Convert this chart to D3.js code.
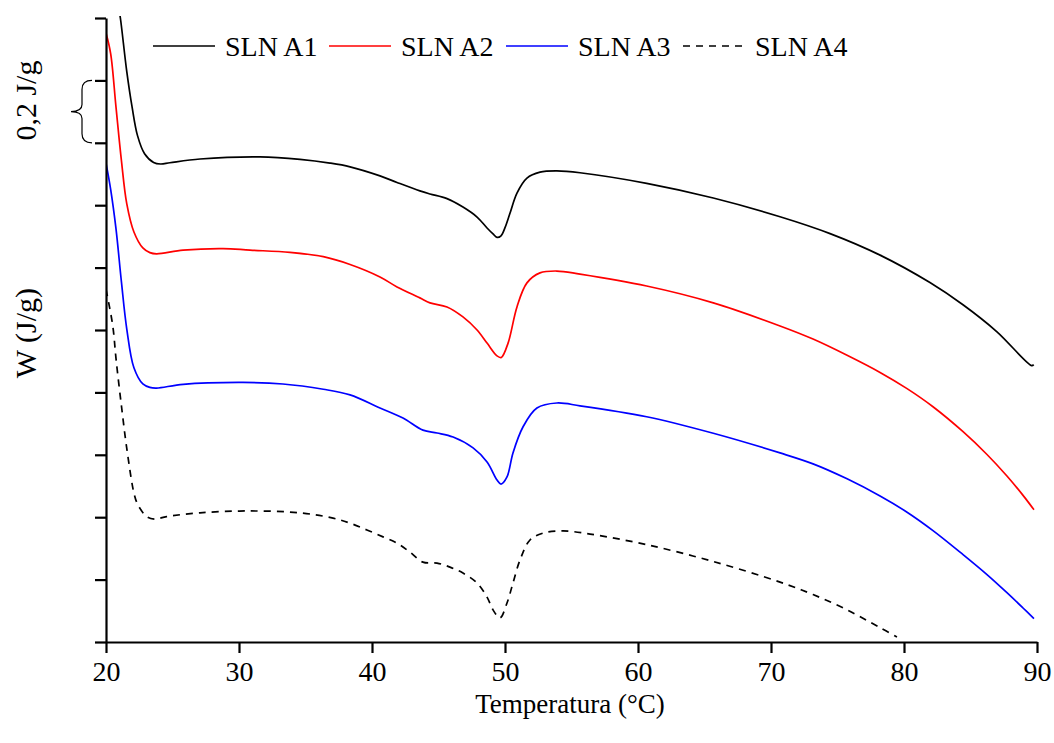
<!DOCTYPE html>
<html>
<head>
<meta charset="utf-8">
<script src="https://cdn.jsdelivr.net/npm/d3@7"></script>
<style>
  html, body { margin: 0; padding: 0; background: #fff; }
  svg { display: block; }
  svg text { font-family: "Liberation Serif", "Times New Roman", serif !important; fill: #000; }
</style>
</head>
<body>
<svg id="chart" width="1054" height="743"></svg>
<script>
// ---- data (temperature °C, W in J/g, arbitrary vertical offset) ----
const xTicks = [20, 30, 40, 50, 60, 70, 80, 90];
const yTicks = [0, 0.2, 0.4, 0.6, 0.8, 1.0, 1.2, 1.4, 1.6, 1.8, 2.0];
const seriesNames = ["SLN A1", "SLN A2", "SLN A3", "SLN A4"];

const slnA1 = [[20.95,2.032],[21.08,2.000],[21.56,1.829],[21.96,1.715],[22.37,1.623],[22.9,1.565],[23.58,1.537],[24.1,1.532],[24.8,1.536],[27.07,1.548],[31.58,1.555],[34.59,1.547],[36.84,1.535],[38.35,1.523],[40.6,1.494],[41.88,1.473],[43.6,1.446],[44.36,1.436],[45.64,1.421],[46.84,1.394],[47.9,1.362],[48.65,1.327],[49.1,1.308],[49.4,1.297],[49.7,1.302],[50.0,1.328],[50.38,1.375],[50.9,1.439],[51.65,1.487],[52.63,1.506],[53.9,1.510],[55.64,1.504],[60.65,1.470],[65.66,1.423],[70.68,1.363],[74.44,1.309],[78.2,1.240],[81.95,1.152],[84.46,1.080],[86.97,0.995],[89.6,0.886],[89.75,0.889]];

const slnA2 = [[20.0,1.952],[20.35,1.886],[20.75,1.715],[21.16,1.543],[21.56,1.405],[22.1,1.314],[22.77,1.263],[23.3,1.248],[23.8,1.244],[25.8,1.256],[28.8,1.261],[30.83,1.256],[33.83,1.249],[36.34,1.235],[38.35,1.210],[40.6,1.170],[41.88,1.138],[43.6,1.103],[44.36,1.087],[45.64,1.074],[46.84,1.042],[47.9,1.000],[48.65,0.958],[49.4,0.917],[49.72,0.912],[50.23,0.958],[50.9,1.074],[51.65,1.151],[52.63,1.183],[53.9,1.189],[55.64,1.179],[60.65,1.141],[65.66,1.087],[70.68,1.013],[73.16,0.971],[75.72,0.919],[78.2,0.864],[80.23,0.812],[82.18,0.754],[84.44,0.674],[86.24,0.601],[87.74,0.532],[88.95,0.470],[89.77,0.424]];

const slnA3 = [[20.0,1.535],[20.35,1.451],[20.75,1.325],[21.16,1.154],[21.56,1.004],[22.1,0.879],[22.77,0.827],[23.3,0.816],[23.8,0.814],[25.8,0.826],[30.3,0.832],[33.3,0.827],[36.34,0.810],[38.35,0.792],[40.6,0.750],[42.33,0.718],[43.83,0.679],[44.89,0.670],[46.1,0.657],[47.6,0.622],[48.65,0.577],[49.4,0.519],[49.7,0.506],[50.15,0.529],[50.6,0.606],[51.35,0.689],[52.4,0.750],[53.9,0.766],[55.64,0.757],[60.65,0.722],[65.66,0.669],[70.68,0.606],[73.16,0.571],[75.72,0.523],[78.2,0.468],[80.23,0.416],[82.18,0.357],[84.44,0.280],[86.24,0.216],[87.74,0.158],[88.95,0.109],[89.77,0.075]];

const slnA4 = [[20.0,1.130],[20.5,1.016],[20.77,0.901],[21.18,0.750],[21.59,0.612],[22.13,0.472],[22.4,0.440],[23.06,0.402],[23.68,0.394],[24.56,0.402],[27.07,0.414],[30.6,0.420],[34.59,0.414],[37.07,0.397],[38.35,0.381],[39.62,0.359],[40.83,0.337],[41.88,0.317],[42.86,0.288],[43.83,0.256],[44.89,0.253],[45.86,0.240],[46.84,0.221],[47.9,0.189],[48.65,0.144],[49.1,0.103],[49.62,0.077],[50.15,0.125],[50.6,0.189],[51.13,0.263],[51.88,0.327],[52.86,0.349],[54.36,0.356],[56.4,0.346],[60.65,0.312],[65.66,0.258],[70.68,0.192],[73.16,0.152],[75.72,0.103],[78.2,0.046],[79.47,0.016]];

const seriesData = [slnA1, slnA2, slnA3, slnA4];
const seriesColors = ["#000000", "#ff0000", "#0000ff", "#000000"];
const seriesDash = [null, null, null, "7,6"];
const scaleBarValue = [1.6, 1.8];   // brace marks 0,2 J/g

// ---- layout ----
const FONT = '"Liberation Serif", "Times New Roman", serif';
const svg = d3.select("#chart");
const pL = 106, pR = 1037, pT = 18, pB = 642;
const x = d3.scaleLinear().domain([20, 90]).range([pL, pR]);
const y = d3.scaleLinear().domain([0, 2]).range([pB, pT]);

svg.append("rect").attr("width", 1054).attr("height", 743).attr("fill", "#fff");

svg.append("defs").append("clipPath").attr("id", "plotclip")
  .append("rect").attr("x", pL).attr("y", pT - 2).attr("width", pR - pL + 4).attr("height", pB - pT + 2);

// curves
const line = d3.line().x(d => x(d[0])).y(d => y(d[1])).curve(d3.curveCatmullRom.alpha(0.5));
const g = svg.append("g").attr("clip-path", "url(#plotclip)");
seriesData.forEach((s, i) => {
  g.append("path").datum(s)
    .attr("d", line)
    .attr("fill", "none")
    .attr("stroke", seriesColors[i])
    .attr("stroke-width", 1.7)
    .attr("stroke-linejoin", "round")
    .attr("stroke-dasharray", seriesDash[i]);
});

// axes
const yAxis = d3.axisLeft(y).tickValues(yTicks).tickSize(11).tickSizeOuter(0).tickFormat("");
const yg = svg.append("g").attr("transform", `translate(${pL},0)`).call(yAxis);
const xAxis = d3.axisBottom(x).tickValues(xTicks).tickSize(11).tickSizeOuter(0).tickPadding(8);
const xg = svg.append("g").attr("transform", `translate(0,${pB})`).call(xAxis);
[yg, xg].forEach(a => {
  a.attr("font-family", FONT);
  a.selectAll("path.domain").attr("stroke", "#000").attr("stroke-width", 2.2);
  a.selectAll(".tick line").attr("stroke", "#000").attr("stroke-width", 2.2);
});
xg.selectAll(".tick text")
  .style("font-family", FONT)
  .attr("font-size", 28).attr("fill", "#000")
  .attr("dy", null).attr("y", 39);

// axis titles
svg.append("text").attr("x", 570).attr("y", 713).attr("text-anchor", "middle")
  .style("font-family", FONT).attr("font-size", 27).text("Temperatura (°C)");
svg.append("text").attr("transform", `translate(36,${y(0.99)}) rotate(-90)`)
  .style("font-family", FONT).attr("text-anchor", "middle").attr("font-size", 30).text("W (J/g)");
svg.append("text").attr("transform", `translate(36,${(y(scaleBarValue[0]) + y(scaleBarValue[1])) / 2 - 11}) rotate(-90)`)
  .style("font-family", FONT).attr("text-anchor", "middle").attr("font-size", 30).text("0,2 J/g");

// brace for scale bar
const bTop = y(scaleBarValue[1]), bBot = y(scaleBarValue[0]), bMid = (bTop + bBot) / 2;
svg.append("path")
  .attr("d", `M92,${bTop} Q82,${bTop} 82,${bTop + 9} L82,${bMid - 7} Q82,${bMid} 71,${bMid} Q82,${bMid} 82,${bMid + 7} L82,${bBot - 9} Q82,${bBot} 92,${bBot}`)
  .attr("fill", "none").attr("stroke", "#000").attr("stroke-width", 1.2);

// legend
const legendX = [153, 329, 506, 683];
const legendY = 46;
seriesNames.forEach((name, i) => {
  svg.append("line")
    .attr("x1", legendX[i]).attr("x2", legendX[i] + 62)
    .attr("y1", legendY).attr("y2", legendY)
    .attr("stroke", seriesColors[i]).attr("stroke-width", 1.7)
    .attr("stroke-dasharray", seriesDash[i]);
  svg.append("text").attr("x", legendX[i] + 72).attr("y", legendY + 10)
    .style("font-family", FONT).attr("font-size", 28).text(name);
});
</script>
</body>
</html>
